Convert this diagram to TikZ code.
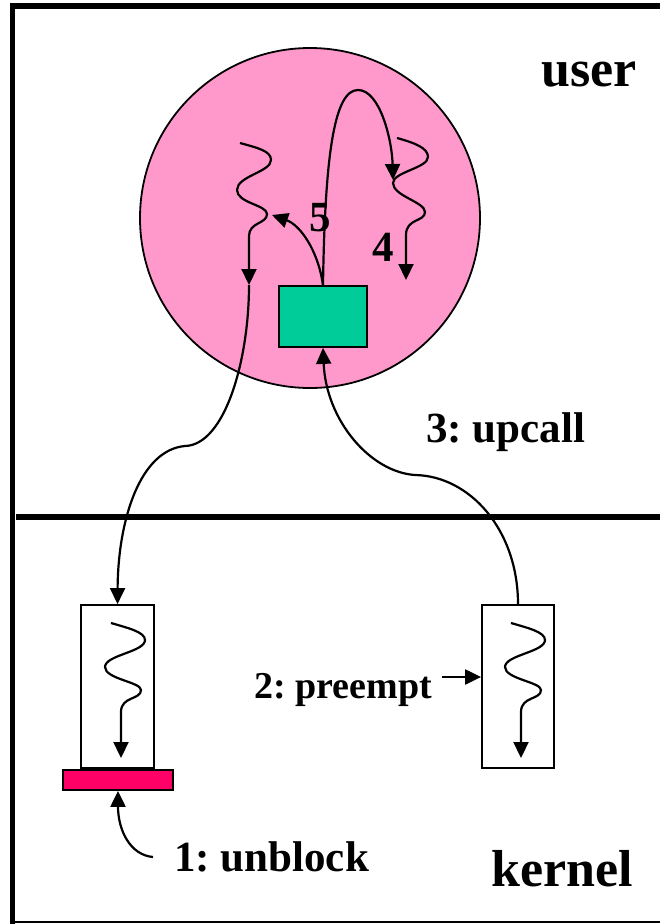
\documentclass[tikz,border=0pt]{standalone}
\usepackage{fontspec}
\setmainfont{Liberation Serif}
\usetikzlibrary{arrows.meta}
\definecolor{procpink}{RGB}{255,153,204}
\definecolor{handlergreen}{RGB}{0,204,153}
\definecolor{blockred}{RGB}{255,0,102}
\frenchspacing
\begin{document}
\begin{tikzpicture}[x=1pt,y=-1pt,
  thread/.style={line width=2.2pt},
  tip/.style={-{Triangle[length=16pt,width=15pt]}},
  box/.style={draw, line width=1.8pt, inner sep=0pt},
  lbl/.style={anchor=base west, inner sep=0pt, font=\bfseries\fontsize{43}{43}\selectfont},
  biglbl/.style={lbl, font=\bfseries\fontsize{52}{52}\selectfont},
  smalllbl/.style={lbl, font=\bfseries\fontsize{38}{38}\selectfont}]
\useasboundingbox (0,0) rectangle (660,924);

% frame and user/kernel boundary
\draw[line width=6pt] (10,6.3) -- (660,6.3);
\draw[line width=5pt] (12.5,3.3) -- (12.5,924);
\draw[line width=2pt] (10,921.5) -- (660,921.5);
\draw[line width=6pt] (16,517) -- (660,517);

% user process and its upcall handler
\node[circle, draw, line width=1.8pt, fill=procpink, minimum size=340pt, inner sep=0pt] (proc) at (310,218) {};
\node[box, fill=handlergreen, minimum width=88pt, minimum height=61pt] (handler) at (323,316.5) {};

% kernel queues and the blocking bar
\node[box, fill=white, minimum width=73pt, minimum height=163pt] (lq) at (117.5,686.5) {};
\node[box, fill=white, minimum width=72pt, minimum height=163pt] (rq) at (518,686.5) {};
\node[box, fill=blockred, minimum width=110pt, minimum height=20pt] (blk) at (118,780) {};

% threads inside the kernel queues
\draw[thread,tip] (111,623) .. controls (128,628) and (145,632) .. (145,640)
  .. controls (145,652) and (105,655) .. (105,667)
  .. controls (105,679) and (141,682) .. (141,690)
  .. controls (141,700) and (121,696) .. (121,712) -- (121,758);
\begin{scope}[xshift=400pt]
\draw[thread,tip] (111,623) .. controls (128,628) and (145,632) .. (145,640)
  .. controls (145,652) and (105,655) .. (105,667)
  .. controls (105,679) and (141,682) .. (141,690)
  .. controls (141,700) and (121,696) .. (121,712) -- (121,758);
\end{scope}

% threads inside the user process
\draw[thread,tip] (240,143) .. controls (258,148) and (271,151) .. (271,160)
  .. controls (271,172) and (237,176) .. (237,190)
  .. controls (237,203) and (267,205) .. (267,214)
  .. controls (267,224) and (249,222) .. (249,236) -- (249,285);
\draw[thread,tip] (397,138) .. controls (415,143) and (428,148) .. (428,157)
  .. controls (428,168) and (393,172) .. (393,183)
  .. controls (393,196) and (425,202) .. (425,212)
  .. controls (425,222) and (406,218) .. (406,235) -- (406,280);

% unblocked thread goes back to the kernel queue
\draw[thread,tip] (249,285) .. controls (249,360) and (225,445) .. (185,446)
  .. controls (140,450) and (118,520) .. (lq.north);

% handler resumes threads (5) and switches (4)
\draw[thread,tip] (handler.north) .. controls (318,250) and (300,225) .. (272,215);
\draw[thread,tip] (handler.north) .. controls (325,150) and (335,90) .. (358,90)
  .. controls (380,90) and (392,140) .. (393,180);

% upcall from the preempted queue into the handler
\draw[thread,tip] (rq.north) .. controls (518,530) and (470,476) .. (415,475)
  .. controls (370,472) and (326,420) .. (handler.south);

% preempt and unblock events
\coordinate (ptail) at (442,677);
\draw[thread,tip] (ptail) -- (ptail -| rq.west);
\coordinate (ubtail) at (153,857);
\draw[thread,tip] (ubtail) .. controls (130,855) and (118,830) .. (blk.south);

% labels
\node[biglbl] (userlbl) at (541,86.7) {user};
\node[biglbl] (kernellbl) at (491,886) {kernel};
\node[lbl] (upcalllbl) at (426,442.7) {3: upcall};
\node[lbl] (unblocklbl) at (174,871.7) {1: unblock};
\node[smalllbl] (preemptlbl) at (254,698) {2: preempt};
\node[lbl] (fivelbl) at (309,231.7) {5};
\node[lbl] (fourlbl) at (372,261.7) {4};
\end{tikzpicture}
\end{document}
